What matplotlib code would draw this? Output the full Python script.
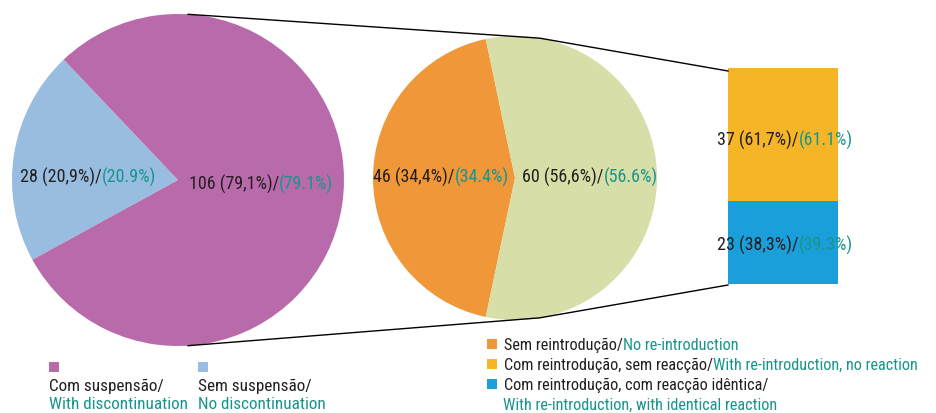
import matplotlib
matplotlib.use("Agg")
import matplotlib.pyplot as plt
from matplotlib.offsetbox import TextArea, HPacker, AnnotationBbox
import numpy as np

plt.rcParams['font.family'] = ['Roboto Condensed', 'Archivo Narrow', 'PT Sans Narrow', 'DejaVu Sans']

# data
suspension_counts = [28, 106]          # sem suspensao, com suspensao
suspension_pt = ["28 (20,9%)/", "106 (79,1%)/"]
suspension_en = ["(20.9%)", "(79.1%)"]

reintro_counts = [46, 60]              # sem reintroducao, com reintroducao
reintro_pt = ["46 (34,4%)/", "60 (56,6%)/"]
reintro_en = ["(34.4%)", "(56.6%)"]

reaction_counts = [23, 37]             # reaccao identica, sem reaccao
reaction_pt = ["23 (38,3%)/", "37 (61,7%)/"]
reaction_en = ["(39.3%)", "(61.1%)"]

left_pt = ["Com suspensão/", "Sem suspensão/"]
left_en = ["With discontinuation", "No discontinuation"]
right_pt = ["Sem reintrodução/", "Com reintrodução, sem reacção/", "Com reintrodução, com reacção idêntica/"]
right_en = ["No re-introduction", "With re-introduction, no reaction", ""]
right_en_extra = "With re-introduction, with identical reaction"

dark = "#231f20"
teal = "#17958a"
c_susp = ["#98bde0", "#b86aaa"]
c_reintro = ["#f0973a", "#d8dea7"]
c_react = ["#1b9fdb", "#f6b526"]

fs = 13
fs_leg = 12.3
fs_leg_r = 11.7


def two_color(ax, xy, pt, en, align=(0.5, 0.5), size=fs):
    box = HPacker(children=[TextArea(pt, textprops=dict(color=dark, fontsize=size)),
                            TextArea(en, textprops=dict(color=teal, fontsize=size))],
                  pad=0, sep=0, align="baseline")
    ab = AnnotationBbox(box, xy, box_alignment=align, frameon=False, pad=0)
    ax.add_artist(ab)


fig = plt.figure(figsize=(9.37, 4.14), dpi=100)
ax = fig.add_axes([0, 0, 1, 1])

# big pie
c1, r1 = (178, 233), 166
ax.pie(suspension_counts, colors=c_susp, startangle=133.5, center=c1, radius=r1,
       wedgeprops=dict(linewidth=0), frame=True)
# middle pie
c2, r2 = (515, 235), 142
frac = reintro_counts[0] / sum(reintro_counts)
ax.pie(reintro_counts, colors=c_reintro, startangle=180 - frac * 180, center=c2, radius=r2,
       wedgeprops=dict(linewidth=0), frame=True)

# stacked bar
bar_x, bar_w, bar_y0, bar_h = 783, 110, 129, 216
scale = bar_h / sum(reaction_counts)
bottoms = np.cumsum([0] + reaction_counts[:-1]) * scale + bar_y0
ax.bar([bar_x] * 2, np.array(reaction_counts) * scale, bottom=bottoms,
       width=bar_w, color=c_react, linewidth=0)

# connector lines
a1, a2 = np.radians(86.5), np.radians(80)
top = [(c1[0] + r1 * np.cos(a1), c1[1] + r1 * np.sin(a1)),
       (c2[0] + r2 * np.cos(a2), c2[1] + r2 * np.sin(a2)),
       (bar_x - bar_w / 2, bar_y0 + bar_h - 3)]
bot = [(c1[0] + r1 * np.cos(a1), c1[1] - r1 * np.sin(a1)),
       (c2[0] + r2 * np.cos(a2), c2[1] - r2 * np.sin(a2)),
       (bar_x - bar_w / 2, bar_y0 - 1)]
for pts in (top, bot):
    xs, ys = zip(*pts)
    ax.plot(xs, ys, color="black", lw=1)

# value labels
two_color(ax, (88, 237), suspension_pt[0], suspension_en[0])
two_color(ax, (261, 230), suspension_pt[1], suspension_en[1])
two_color(ax, (441, 237), reintro_pt[0], reintro_en[0])
two_color(ax, (590, 237), reintro_pt[1], reintro_en[1])
two_color(ax, (785, 169), reaction_pt[0], reaction_en[0])
two_color(ax, (785, 274), reaction_pt[1], reaction_en[1])

# legends
left_x = [49, 198]
for x, col, pt, en in zip(left_x, c_susp[::-1], left_pt, left_en):
    ax.add_patch(plt.Rectangle((x, 41), 10, 10, color=col, lw=0))
    ax.text(x, 28, pt, color=dark, fontsize=fs_leg, va="center")
    ax.text(x, 9, en, color=teal, fontsize=fs_leg, va="center")

right_col = [c_reintro[0], c_react[1], c_react[0]]
for i, (col, pt, en) in enumerate(zip(right_col, right_pt, right_en)):
    y = 69 - 20 * i
    ax.add_patch(plt.Rectangle((487, y - 5), 10, 10, color=col, lw=0))
    two_color(ax, (504, y), pt, en, align=(0, 0.5), size=fs_leg_r)
ax.text(503, 9, right_en_extra, color=teal, fontsize=fs_leg_r, va="center")

ax.set_xlim(0, 937)
ax.set_ylim(0, 414)
ax.set_aspect("auto")
ax.axis("off")
fig.savefig("out.png", dpi=100)
